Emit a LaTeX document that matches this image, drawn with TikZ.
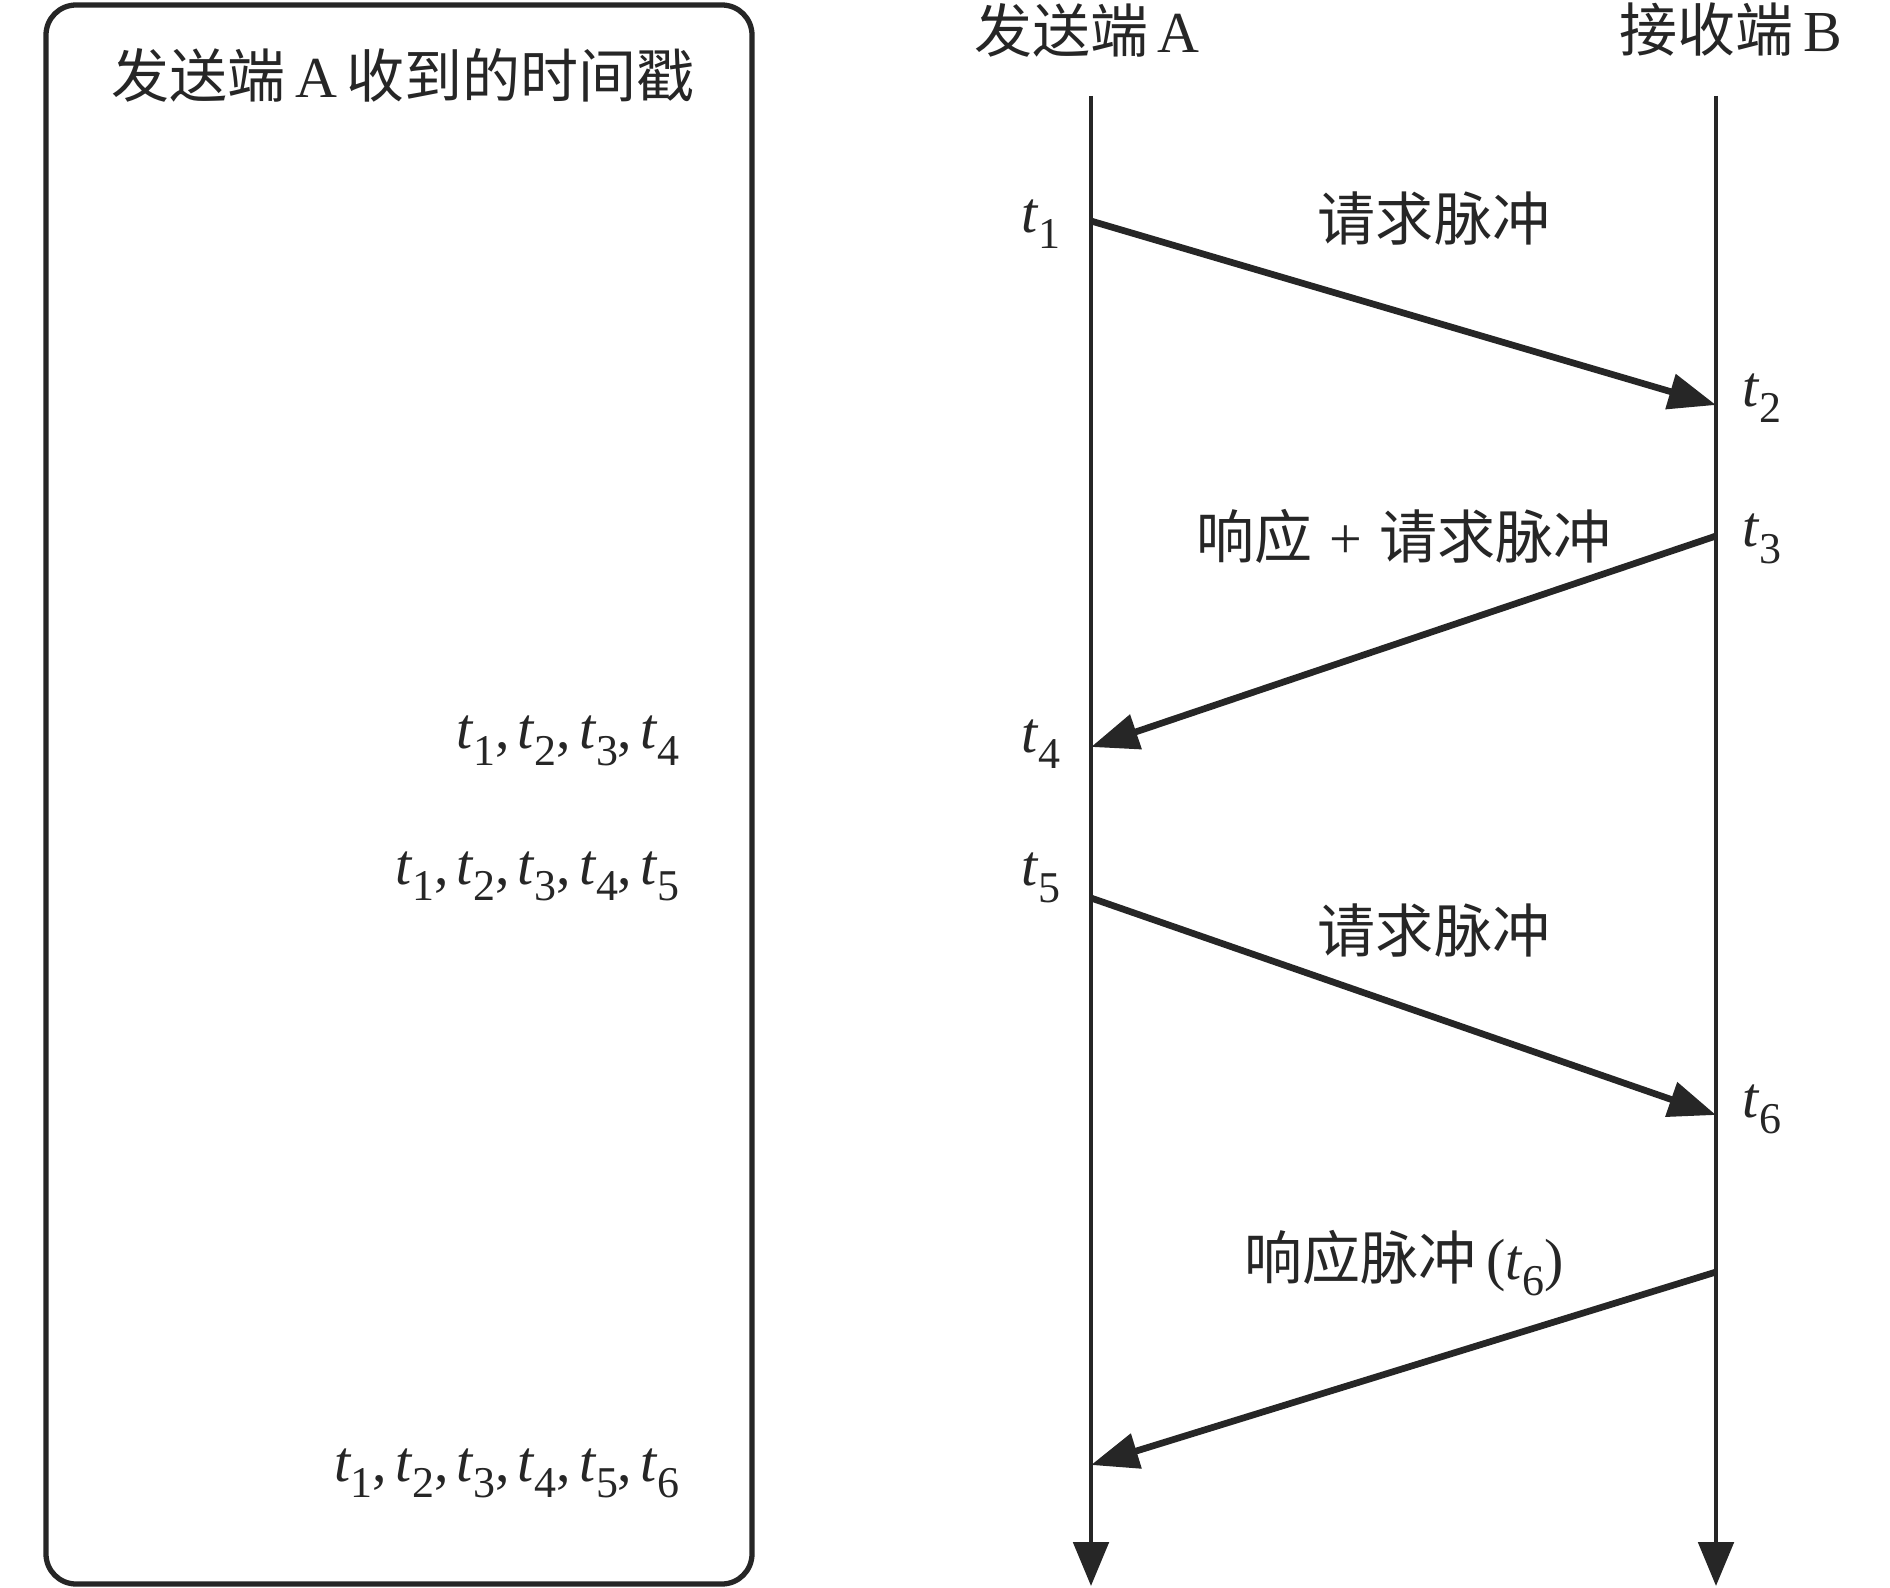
\documentclass[tikz,border=0pt]{standalone}
\usepackage{fontspec}
\setmainfont{Liberation Serif}
\newfontfamily\cjk{Noto Sans CJK SC}
\usetikzlibrary{arrows.meta}
\newcommand{\tv}[1]{\textit{t}\kern-0.01em\raisebox{-0.28em}{\fontsize{12.5pt}{13pt}\selectfont #1}}
\newcommand{\sep}{,\hspace{0.14em}}
\definecolor{ink}{HTML}{262626}
\begin{document}
\begin{tikzpicture}[x=0.01cm,y=-0.01cm,
  every node/.style={font=\fontsize{16.5pt}{18pt}\selectfont, inner sep=0pt, text=ink},
  frame/.style={draw=ink, line width=1.5pt, rounded corners=0.3cm},
  life/.style={draw=ink, line width=1.35pt, -{Triangle[length=12.5pt,width=10pt]}},
  msg/.style={draw=ink, line width=1.9pt, -{Triangle[length=13.5pt,width=10pt]}},
  lbl/.style={anchor=center},
  tlab/.style={anchor=center},
  list/.style={anchor=east}]
\useasboundingbox (0,0) rectangle (1890,1588);
\fill[white] (0,0) rectangle (1890,1588);

% left frame
\draw[frame] (46,5) rectangle (752,1584);
\node[lbl] (title) at (403,75) {{\cjk 发送端}\,A\,{\cjk 收到的时间戳}};
\node[list] (l4) at (680,741) {\tv{1}\sep\tv{2}\sep\tv{3}\sep\tv{4}};
\node[list] (l5) at (680,876) {\tv{1}\sep\tv{2}\sep\tv{3}\sep\tv{4}\sep\tv{5}};
\node[list] (l6) at (680,1473) {\tv{1}\sep\tv{2}\sep\tv{3}\sep\tv{4}\sep\tv{5}\sep\tv{6}};

% lifeline headers
\node[lbl] (hA) at (1087,30) {{\cjk 发送端}\,A};
\node[lbl] (hB) at (1731,30) {{\cjk 接收端}\,B};

% lifeline ends
\coordinate (Atop) at (1091,96);
\coordinate (Abot) at (1091,1586);
\coordinate (Btop) at (1716,96);
\coordinate (Bbot) at (1716,1586);
\draw[life] (Atop) -- (Abot);
\draw[life] (Btop) -- (Bbot);

% event points
\coordinate (p1) at (1091,221);
\coordinate (p2) at (1716,405);
\coordinate (p3) at (1716,536);
\coordinate (p4) at (1091,747);
\coordinate (p5) at (1091,898);
\coordinate (p6) at (1716,1115);
\coordinate (p7) at (1716,1272);
\coordinate (p8) at (1091,1465);

\draw[msg] (p1) -- (p2);
\draw[msg] (p3) -- (p4);
\draw[msg] (p5) -- (p6);
\draw[msg] (p7) -- (p8);

% time labels
\node[tlab] (t1) at (1041,224) {\tv{1}};
\node[tlab] (t2) at (1762,398) {\tv{2}};
\node[tlab] (t3) at (1762,539) {\tv{3}};
\node[tlab] (t4) at (1041,744) {\tv{4}};
\node[tlab] (t5) at (1041,878) {\tv{5}};
\node[tlab] (t6) at (1762,1109) {\tv{6}};

% message labels
\node[lbl] (m1) at (1434,219) {\cjk 请求脉冲};
\node[lbl] (m2) at (1404,536) {{\cjk 响应}\hspace{0.3em}+\hspace{0.3em}{\cjk 请求脉冲}};
\node[lbl] (m3) at (1434,931) {\cjk 请求脉冲};
\node[lbl] (m4) at (1404,1263) {{\cjk 响应脉冲}\,(\tv{6})};
\end{tikzpicture}
\end{document}
